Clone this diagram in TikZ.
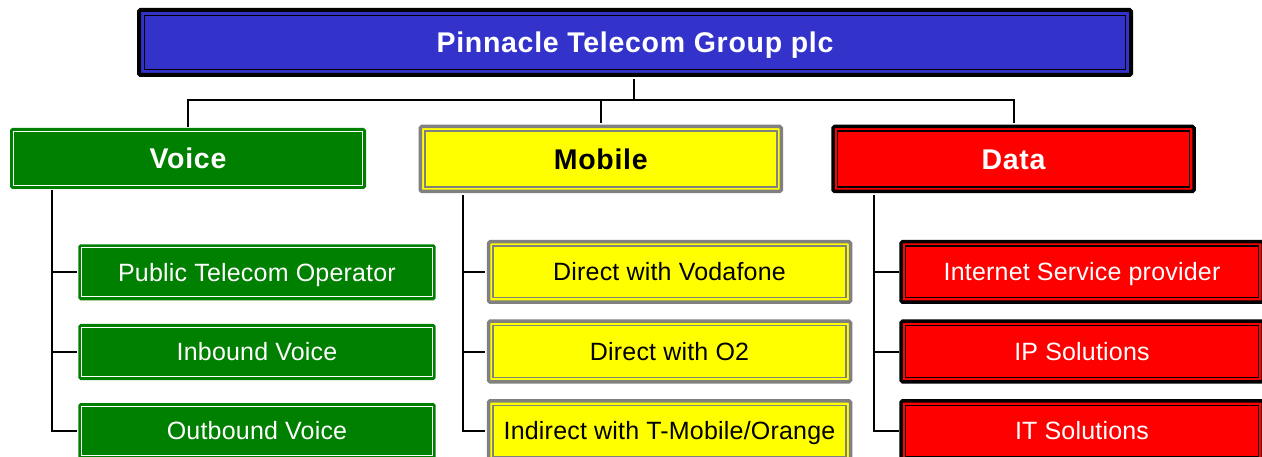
\documentclass[tikz,border=0pt]{standalone}
\usepackage{fontspec}
\setmainfont{Liberation Sans}
\usetikzlibrary{calc}
\definecolor{topblue}{RGB}{51,51,204}
\definecolor{vgreen}{RGB}{0,128,0}
\definecolor{myellow}{RGB}{255,255,0}
\definecolor{dred}{RGB}{255,0,0}
\definecolor{mgray}{RGB}{128,128,128}
\tikzset{
  box/.style={rectangle, inner sep=0pt, align=center, rounded corners=1.5pt, text depth=0pt},
  innerline/.style n args={3}{path picture={\draw[#1, line width=#2, sharp corners]
      ([shift={(#3pt,#3pt)}]path picture bounding box.south west) rectangle
      ([shift={(-#3pt,-#3pt)}]path picture bounding box.north east);}},
  headfont/.style={font=\fontsize{28.5}{32}\selectfont\bfseries\addfontfeature{LetterSpace=2.5}, text height=20.4pt},
  subfont/.style={font=\fontsize{25}{28}\selectfont\addfontfeature{LetterSpace=0.8}, text height=17.9pt},
  topbox/.style={box, headfont, text=white, fill=topblue, draw=black, line width=4pt,
      innerline={black}{1.5pt}{5.5}, minimum width=992pt, minimum height=65pt},
  voicebox/.style={box, fill=vgreen, draw=vgreen, line width=2pt, text=white,
      innerline={white}{1.2pt}{2.5}},
  mobilebox/.style={box, fill=myellow, draw=mgray, line width=3.5pt, text=black,
      innerline={mgray}{1.5pt}{4.5}},
  databox/.style={box, fill=dred, draw=black, line width=3.5pt, text=white,
      innerline={black}{1.5pt}{4.5}},
  head/.style={headfont, minimum width=361pt, minimum height=65pt},
  vhead/.style={headfont, minimum width=354pt, minimum height=59pt},
  vsub/.style={subfont, minimum width=355.4pt, minimum height=54pt},
  msub/.style={subfont, minimum width=362pt, minimum height=60.5pt},
  conn/.style={draw=black, line width=2pt},
}
\begin{document}
\begin{tikzpicture}[x=1pt,y=-1pt]
\useasboundingbox (0,0) rectangle (1262,457);
\clip (0,0) rectangle (1262,457);

\node[topbox] (top) at (635,42.5) {Pinnacle Telecom Group plc};

\node[voicebox, vhead] (voice) at (188,158.5) {Voice};
\node[mobilebox, head] (mobile) at (600.75,159) {Mobile};
\node[databox, head] (data) at (1013.5,159) {Data};

\node[voicebox, vsub] (v1) at (257,272.3) {Public Telecom Operator};
\node[voicebox, vsub] (v2) at (257,352) {Inbound Voice};
\node[voicebox, vsub] (v3) at (257,431) {Outbound Voice};

\node[mobilebox, msub] (m1) at (669.5,272) {Direct with Vodafone};
\node[mobilebox, msub] (m2) at (669.5,351.5) {Direct with O2};
\node[mobilebox, msub] (m3) at (669.5,431) {Indirect with T-Mobile/Orange};

\node[databox, msub] (d1) at (1082,272) {Internet Service provider};
\node[databox, msub] (d2) at (1082,351.5) {IP Solutions};
\node[databox, msub] (d3) at (1082,431) {IT Solutions};

% top connectors
\coordinate (j) at ($(top.south)+(-1,23)$);
\draw[conn] ($(top.south)+(-1,2)$) -- (j);
\draw[conn] ($(voice.north)+(0,-1)$) -- (voice.north |- j) -- (data.north |- j) -- ($(data.north)+(0,-1.75)$);
\draw[conn] ($(mobile.north)+(0,-1.75)$) -- (mobile.north |- j);

% voice branch
\coordinate (vv) at ($(voice.south west)+(41.7,1)$);
\draw[conn] (vv) |- ($(v3.west)+(-1,0)$);
\draw[conn] (vv |- v1.west) -- ($(v1.west)+(-1,0)$);
\draw[conn] (vv |- v2.west) -- ($(v2.west)+(-1,0)$);

% mobile branch
\coordinate (mv) at ($(mobile.south west)+(44,1.75)$);
\draw[conn] (mv) |- ($(m3.west)+(-1.75,0)$);
\draw[conn] (mv |- m1.west) -- ($(m1.west)+(-1.75,0)$);
\draw[conn] (mv |- m2.west) -- ($(m2.west)+(-1.75,0)$);

% data branch
\coordinate (dv) at ($(data.south west)+(43,1.75)$);
\draw[conn] (dv) |- (d3.west);
\draw[conn] (dv |- d1.west) -- (d1.west);
\draw[conn] (dv |- d2.west) -- (d2.west);
\end{tikzpicture}
\end{document}
